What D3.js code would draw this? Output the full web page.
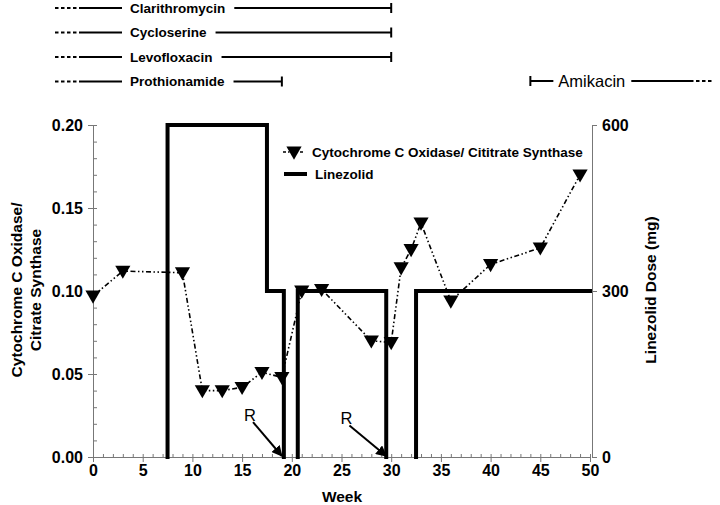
<!DOCTYPE html>
<html><head><meta charset="utf-8">
<script src="https://cdn.jsdelivr.net/npm/d3@7"></script>
<style>body{margin:0;background:#fff}text{font-family:"Liberation Sans",Arial,sans-serif}</style>
</head><body><svg id="c" width="720" height="505"></svg>
<script>
// Data
const weeks = [0, 3, 9, 11, 13, 15, 17, 19, 21, 23, 28, 30, 31, 32, 33, 36, 40, 45, 49];
const ratio = [0.097, 0.112, 0.111, 0.040, 0.040, 0.042, 0.051, 0.048, 0.100, 0.101, 0.070, 0.069, 0.114, 0.125, 0.141, 0.094, 0.116, 0.126, 0.170];
const doseWeeks = [0, 7.5, 7.5, 17.5, 17.5, 19.2, 19.2, 20.6, 20.6, 29.5, 29.5, 32.5, 32.5, 50];
const doseMg    = [0, 0, 600, 600, 300, 300, 0, 0, 300, 300, 0, 0, 300, 300];
const drugs = ["Clarithromycin", "Cycloserine", "Levofloxacin", "Prothionamide"];
const drugEnd = [30, 30, 30, 19];
const amikacinStart = 44;
const rWeeks = [19, 29.5];
const rFromWeeks = [16.1, 25.8];
const rFromVals = [0.021, 0.019];
const xTicks = [0, 5, 10, 15, 20, 25, 30, 35, 40, 45, 50];
const yTicks = [0, 0.05, 0.10, 0.15, 0.20];
const y2Ticks = [0, 300, 600];

const svg = d3.select("#c");
const x = d3.scaleLinear().domain([0, 50]).range([93, 590]);
const y = d3.scaleLinear().domain([0, 0.2]).range([457, 125]);
const y2 = d3.scaleLinear().domain([0, 600]).range([457, 125]);
const axisCol = "#777";
const tickFont = 16;

// left axis
const gL = svg.append("g").attr("transform", "translate(93,0)");
gL.call(d3.axisLeft(y).tickValues(yTicks).tickFormat(d3.format(".2f")).tickSize(5).tickPadding(5));
gL.append("g").call(d3.axisRight(y).tickValues(d3.range(0, 0.2001, 0.01)).tickSize(4).tickFormat(""));
gL.selectAll(".domain").attr("stroke", axisCol);
gL.selectAll(".tick line").attr("stroke", axisCol);
gL.selectAll("text").attr("font-size", tickFont).attr("font-weight", "bold").attr("fill", "#000");

// right axis
const gR = svg.append("g").attr("transform", "translate(592,0)");
gR.call(d3.axisRight(y2).tickValues(y2Ticks).tickSize(5).tickPadding(5));
gR.selectAll(".domain").attr("stroke", axisCol);
gR.selectAll(".tick line").attr("stroke", axisCol);
gR.selectAll("text").attr("font-size", tickFont).attr("font-weight", "bold").attr("fill", "#000");

// bottom axis
const gB = svg.append("g").attr("transform", "translate(0,457)");
gB.call(d3.axisBottom(x).tickValues(xTicks).tickSize(5).tickPadding(3));
gB.append("g").call(d3.axisTop(x).tickValues(d3.range(0, 51, 1)).tickSize(3).tickFormat(""));
gB.selectAll(".domain").attr("stroke", axisCol);
gB.selectAll(".tick line").attr("stroke", axisCol);
gB.selectAll("text").attr("font-size", tickFont).attr("font-weight", "bold").attr("fill", "#000");

// axis titles
svg.append("text").attr("x", 342).attr("y", 502).attr("text-anchor", "middle")
  .attr("font-size", 15.5).attr("font-weight", "bold").text("Week");
const lt = svg.append("text").attr("transform", "translate(0,290) rotate(-90)")
  .attr("text-anchor", "middle").attr("font-size", 15.5).attr("font-weight", "bold");
lt.append("tspan").attr("x", 0).attr("y", 22).text("Cytochrome C Oxidase/");
lt.append("tspan").attr("x", 0).attr("y", 41).text("Citrate Synthase");
svg.append("text").attr("transform", "translate(656,290) rotate(-90)")
  .attr("text-anchor", "middle").attr("font-size", 15.5).attr("font-weight", "bold").text("Linezolid Dose (mg)");

// Linezolid step line (zero-dose horizontal stretches coincide with the axis and are not drawn)
const doseData = doseWeeks.map((w, i) => [w, doseMg[i]]);
const segs = [];
for (let i = 1; i < doseData.length; i++) {
  const a = doseData[i - 1], b = doseData[i];
  if (a[1] === 0 && b[1] === 0) continue;
  segs.push([a, b]);
}
const lineGen = d3.line().x(d => x(d[0])).y(d => y2(d[1]));
// join contiguous segments into paths
const paths = [];
segs.forEach(s => {
  const last = paths[paths.length - 1];
  if (last && last[last.length - 1] === s[0]) last.push(s[1]); else paths.push([s[0], s[1]]);
});
svg.selectAll(".lz").data(paths).join("path").attr("d", lineGen)
  .attr("fill", "none").attr("stroke", "#000").attr("stroke-width", 4).attr("stroke-linejoin", "miter").attr("stroke-linecap", "square");

// ratio line
const rd = weeks.map((w, i) => [w, ratio[i]]);
svg.append("path").datum(rd)
  .attr("d", d3.line().x(d => x(d[0])).y(d => y(d[1])))
  .attr("fill", "none").attr("stroke", "#000").attr("stroke-width", 1.6)
  .attr("stroke-dasharray", "5,2.5,1.5,2.5,1.5,2.5");
const tri = d3.symbol().type(d3.symbolTriangle).size(100);
svg.selectAll(".mk").data(rd).join("path")
  .attr("d", tri).attr("transform", d => `translate(${x(d[0])},${y(d[1]) - 1}) rotate(180)`).attr("fill", "#000");

// R arrows
svg.append("defs").append("marker").attr("id", "ah").attr("viewBox", "0 0 10 10")
  .attr("refX", 9).attr("refY", 5).attr("markerWidth", 5.5).attr("markerHeight", 5.5)
  .attr("orient", "auto").append("path").attr("d", "M0,0L10,5L0,10z").attr("fill", "#000");
rWeeks.forEach((w, i) => {
  const sx = x(rFromWeeks[i]), sy = y(rFromVals[i]);
  svg.append("line").attr("x1", sx).attr("y1", sy).attr("x2", x(w)).attr("y2", y(0) - 1)
    .attr("stroke", "#000").attr("stroke-width", 2).attr("marker-end", "url(#ah)");
  svg.append("text").attr("x", sx - 3).attr("y", sy - 1).attr("text-anchor", "middle").attr("font-size", 16.5).text("R");
});

// legend
svg.append("line").attr("x1", 283).attr("x2", 304).attr("y1", 152).attr("y2", 152)
  .attr("stroke", "#000").attr("stroke-width", 1.6).attr("stroke-dasharray", "3,2,1.5,2");
svg.append("path").attr("d", tri).attr("transform", "translate(294,151) rotate(180)");
svg.append("text").attr("x", 312).attr("y", 157).attr("font-size", 13.5).attr("font-weight", "bold")
  .text("Cytochrome C Oxidase/ Cititrate Synthase");
svg.append("line").attr("x1", 284).attr("x2", 307).attr("y1", 174).attr("y2", 174)
  .attr("stroke", "#000").attr("stroke-width", 4);
svg.append("text").attr("x", 315).attr("y", 179).attr("font-size", 13.5).attr("font-weight", "bold")
  .text("Linezolid");

// drug bars
drugs.forEach((dname, i) => {
  const yy = 8 + i * 24.5;
  const endX = x(drugEnd[i]);
  svg.append("line").attr("x1", 55).attr("x2", 80).attr("y1", yy).attr("y2", yy)
    .attr("stroke", "#000").attr("stroke-width", 2).attr("stroke-dasharray", "3.5,2.5");
  svg.append("line").attr("x1", 80).attr("x2", 122).attr("y1", yy).attr("y2", yy)
    .attr("stroke", "#000").attr("stroke-width", 2);
  const t = svg.append("text").attr("x", 130).attr("y", yy + 4.5).attr("font-size", 13.5).attr("font-weight", "bold").text(dname);
  const w = t.node().getComputedTextLength();
  svg.append("line").attr("x1", 130 + w + 9).attr("x2", endX).attr("y1", yy).attr("y2", yy)
    .attr("stroke", "#000").attr("stroke-width", 2);
  svg.append("line").attr("x1", endX).attr("x2", endX).attr("y1", yy - 5).attr("y2", yy + 5)
    .attr("stroke", "#000").attr("stroke-width", 2);
});
{
  const yy = 81;
  const sx = x(amikacinStart);
  svg.append("line").attr("x1", sx).attr("x2", sx).attr("y1", yy - 5).attr("y2", yy + 5).attr("stroke", "#000").attr("stroke-width", 2);
  svg.append("line").attr("x1", sx).attr("x2", sx + 23).attr("y1", yy).attr("y2", yy).attr("stroke", "#000").attr("stroke-width", 2);
  const t = svg.append("text").attr("x", sx + 28).attr("y", yy + 5.5).attr("font-size", 16.5).text("Amikacin");
  const w = t.node().getComputedTextLength();
  svg.append("line").attr("x1", sx + 28 + w + 6).attr("x2", 690).attr("y1", yy).attr("y2", yy).attr("stroke", "#000").attr("stroke-width", 2);
  svg.append("line").attr("x1", 690).attr("x2", 712).attr("y1", yy).attr("y2", yy).attr("stroke", "#000").attr("stroke-width", 2).attr("stroke-dasharray", "3.5,2.5");
}
</script></body></html>
